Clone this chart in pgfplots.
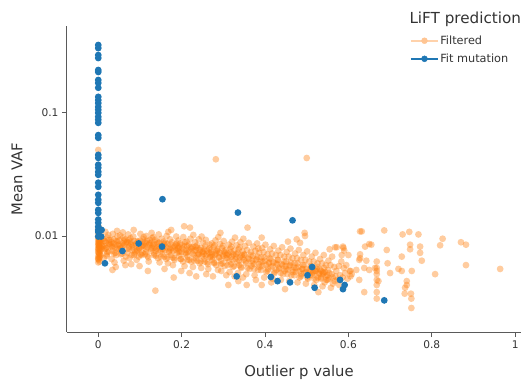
\documentclass[border=0pt]{standalone}
\usepackage{fontspec}
\setmainfont{DejaVu Sans}
\usepackage{pgfplots}
\pgfplotsset{compat=1.18}
\definecolor{fitblue}{HTML}{1F77B4}
\definecolor{filtorange}{HTML}{FF7F0E}
\definecolor{spine}{HTML}{5A5A5A}
\definecolor{txt}{HTML}{333333}
\begin{document}
\begin{tikzpicture}
\useasboundingbox (-67pt,-51pt) rectangle (456pt,332pt);
\begin{axis}[
  scale only axis, width=454pt, height=306pt,
  at={(0pt,0pt)}, anchor=south west, clip=false,
  ymode=log, xmin=-0.075, xmax=1.014, ymin=0.00166, ymax=0.508,
  axis x line*=bottom, axis y line*=left,
  axis line style={spine, line width=1pt, -},
  every outer x axis line/.append style={-},
  every outer y axis line/.append style={-},
  xtick={0,0.2,0.4,0.6,0.8,1}, xticklabels={0,0.2,0.4,0.6,0.8,1},
  ytick={0.01,0.1}, yticklabels={0.01,0.1},
  yminorticks=false,
  tick align=outside, major tick length=5pt,
  tick style={spine, line width=0.9pt},
  tick label style={font=\fontsize{10.6}{12}\selectfont, color=txt},
  xlabel={Outlier p value}, ylabel={Mean VAF},
  label style={font=\fontsize{14.8}{17}\selectfont, color=txt},
  xlabel style={at={(axis description cs:0.511,-0.1307)}, anchor=center},
  ylabel style={at={(axis description cs:-0.1101,0.5)}, anchor=center},
  legend cell align=left,
  legend style={at={(rel axis cs:0.7555,0.9739)}, anchor=north west, draw=none, fill=none,
    font=\fontsize{11.3}{13}\selectfont, text=txt, inner sep=0pt, row sep=5pt,
    nodes={inner sep=1.5pt}},
]
% Filtered (orange)
\addplot[only marks, mark=*, mark size=3.4pt, forget plot, color=filtorange,
  mark options={draw opacity=0, fill=filtorange, fill opacity=0.40}] coordinates {
(0,0.0061) (0.001,0.0064) (0.002,0.0067) (0,0.0069) (0.003,0.0071) (0.001,0.0073) (0,0.0074) (0.004,0.0076)
(0.002,0.0078) (0,0.0079) (0.001,0.0081) (0.003,0.0082) (0,0.0084) (0.002,0.0085) (0.005,0.0087) (0,0.0088)
(0.001,0.0090) (0.003,0.0091) (0,0.0093) (0.002,0.0094) (0.004,0.0096) (0,0.0098) (0.001,0.0100) (0.003,0.0102)
(0,0.0105) (0.002,0.0108) (0.005,0.0111) (0,0.0114) (0.001,0.0119) (0,0.0500) (0.002,0.0072) (0.004,0.0080)
(0.001,0.0086) (0.003,0.0089) (0,0.0077) (0.002,0.0083) (0.006,0.0092) (0.004,0.0068) (0,0.0066) (0.005,0.0075)
(0.002,0.0097) (0,0.0065) (0.003,0.0062) (0.007,0.0084) (0.008,0.0079) (0.006,0.0070)
(0.012,0.0095) (0.015,0.0078) (0.018,0.0088) (0.021,0.0071) (0.024,0.0102) (0.027,0.0084) (0.013,0.0066) (0.016,0.0091)
(0.019,0.0080) (0.022,0.0097) (0.025,0.0075) (0.028,0.0086) (0.014,0.0083) (0.020,0.0069) (0.026,0.0093) (0.017,0.0108)
(0.031,0.0089) (0.034,0.0076) (0.037,0.0094) (0.040,0.0081) (0.043,0.0070) (0.046,0.0099) (0.049,0.0085) (0.032,0.0065)
(0.035,0.0104) (0.038,0.0087) (0.041,0.0073) (0.044,0.0091) (0.047,0.0079) (0.033,0.0083) (0.039,0.0061) (0.045,0.0110)
(0.034,0.0053) (0.042,0.0056)
(0.051,0.0092) (0.054,0.0080) (0.057,0.0072) (0.060,0.0097) (0.063,0.0085) (0.066,0.0068) (0.069,0.0089) (0.052,0.0101)
(0.055,0.0076) (0.058,0.0087) (0.061,0.0063) (0.064,0.0094) (0.067,0.0078) (0.053,0.0083) (0.059,0.0107) (0.065,0.0058)
(0.071,0.0088) (0.074,0.0079) (0.077,0.0096) (0.080,0.0070) (0.083,0.0084) (0.086,0.0091) (0.089,0.0075) (0.072,0.0103)
(0.075,0.0066) (0.078,0.0086) (0.081,0.0081) (0.084,0.0099) (0.087,0.0072) (0.073,0.0093) (0.079,0.0059) (0.085,0.0112)
(0.091,0.0086) (0.094,0.0077) (0.097,0.0068) (0.100,0.0092) (0.103,0.0082) (0.106,0.0073) (0.109,0.0098) (0.092,0.0064)
(0.095,0.0089) (0.098,0.0080) (0.101,0.0104) (0.104,0.0070) (0.107,0.0085) (0.093,0.0076) (0.099,0.0057) (0.108,0.0094)
(0.111,0.0083) (0.114,0.0074) (0.117,0.0091) (0.120,0.0067) (0.123,0.0087) (0.126,0.0079) (0.129,0.0096) (0.112,0.0071)
(0.115,0.0100) (0.118,0.0081) (0.121,0.0062) (0.124,0.0093) (0.127,0.0076) (0.113,0.0088) (0.119,0.0052) (0.128,0.0106)
(0.131,0.0084) (0.134,0.0072) (0.137,0.0093) (0.140,0.0079) (0.143,0.0066) (0.146,0.0088) (0.149,0.0075) (0.132,0.0098)
(0.135,0.0081) (0.138,0.0069) (0.141,0.0090) (0.144,0.0077) (0.147,0.0061) (0.133,0.0086) (0.137,0.0036) (0.145,0.0103)
(0.151,0.0082) (0.154,0.0071) (0.157,0.0090) (0.160,0.0077) (0.163,0.0065) (0.166,0.0086) (0.169,0.0074) (0.152,0.0095)
(0.155,0.0079) (0.158,0.0068) (0.161,0.0088) (0.164,0.0100) (0.167,0.0060) (0.153,0.0084) (0.159,0.0054) (0.168,0.0108)
(0.171,0.0080) (0.174,0.0070) (0.177,0.0089) (0.180,0.0076) (0.183,0.0064) (0.186,0.0085) (0.189,0.0073) (0.172,0.0094)
(0.175,0.0112) (0.178,0.0067) (0.181,0.0046) (0.184,0.0082) (0.187,0.0099) (0.173,0.0078) (0.179,0.0058) (0.188,0.0087)
(0.191,0.0079) (0.194,0.0069) (0.197,0.0087) (0.200,0.0074) (0.203,0.0062) (0.206,0.0120) (0.209,0.0071) (0.192,0.0092)
(0.195,0.0076) (0.198,0.0065) (0.201,0.0084) (0.204,0.0098) (0.207,0.0057) (0.193,0.0081) (0.199,0.0052) (0.208,0.0089)
(0.211,0.0077) (0.214,0.0068) (0.217,0.0085) (0.220,0.0117) (0.223,0.0062) (0.226,0.0081) (0.229,0.0070) (0.212,0.0090)
(0.215,0.0074) (0.218,0.0064) (0.221,0.0095) (0.224,0.0079) (0.227,0.0056) (0.213,0.0083) (0.219,0.0050) (0.228,0.0102)
(0.231,0.0076) (0.234,0.0066) (0.237,0.0084) (0.240,0.0072) (0.243,0.0060) (0.246,0.0080) (0.249,0.0069) (0.232,0.0089)
(0.235,0.0047) (0.238,0.0063) (0.241,0.0094) (0.244,0.0077) (0.247,0.0055) (0.233,0.0082) (0.239,0.0070) (0.248,0.0099)
(0.251,0.0075) (0.254,0.0065) (0.257,0.0083) (0.260,0.0071) (0.263,0.0059) (0.266,0.0079) (0.269,0.0068) (0.252,0.0088)
(0.255,0.0062) (0.258,0.0093) (0.261,0.0076) (0.264,0.0054) (0.267,0.0085) (0.253,0.0072) (0.259,0.0049) (0.268,0.0067)
(0.271,0.0074) (0.274,0.0064) (0.277,0.0082) (0.280,0.0070) (0.282,0.0420) (0.283,0.0058) (0.286,0.0078) (0.289,0.0067)
(0.272,0.0087) (0.275,0.0047) (0.278,0.0061) (0.281,0.0092) (0.284,0.0075) (0.287,0.0053) (0.273,0.0071) (0.279,0.0084) (0.288,0.0098)
(0.291,0.0073) (0.293,0.0106) (0.294,0.0063) (0.297,0.0080) (0.300,0.0069) (0.303,0.0057) (0.306,0.0077) (0.309,0.0066)
(0.292,0.0086) (0.295,0.0052) (0.298,0.0060) (0.301,0.0091) (0.304,0.0073) (0.307,0.0048) (0.299,0.0083) (0.308,0.0070)
(0.311,0.0072) (0.312,0.0040) (0.314,0.0062) (0.317,0.0079) (0.320,0.0068) (0.323,0.0056) (0.326,0.0076) (0.329,0.0065)
(0.313,0.0085) (0.315,0.0051) (0.318,0.0059) (0.321,0.0090) (0.324,0.0071) (0.327,0.0047) (0.319,0.0082) (0.328,0.0097)
(0.331,0.0071) (0.334,0.0061) (0.337,0.0078) (0.340,0.0067) (0.343,0.0055) (0.346,0.0075) (0.349,0.0064) (0.332,0.0084)
(0.335,0.0050) (0.338,0.0058) (0.341,0.0089) (0.344,0.0070) (0.347,0.0046) (0.339,0.0081) (0.348,0.0095) (0.336,0.0043)
(0.351,0.0070) (0.354,0.0060) (0.356,0.0040) (0.357,0.0077) (0.358,0.0117) (0.360,0.0066) (0.363,0.0054) (0.366,0.0074)
(0.369,0.0063) (0.352,0.0083) (0.355,0.0049) (0.361,0.0088) (0.367,0.0057)
(0.371,0.0069) (0.374,0.0059) (0.377,0.0076) (0.380,0.0065) (0.383,0.0053) (0.386,0.0073) (0.389,0.0062) (0.372,0.0082)
(0.375,0.0048) (0.381,0.0087) (0.387,0.0056) (0.378,0.0044) (0.384,0.0079)
(0.391,0.0067) (0.392,0.0097) (0.392,0.0040) (0.394,0.0057) (0.397,0.0074) (0.400,0.0063) (0.403,0.0051) (0.406,0.0071)
(0.409,0.0060) (0.393,0.0080) (0.398,0.0046) (0.401,0.0085) (0.407,0.0054)
(0.411,0.0066) (0.414,0.0056) (0.417,0.0072) (0.420,0.0061) (0.423,0.0050) (0.426,0.0070) (0.429,0.0059) (0.412,0.0078)
(0.418,0.0045) (0.421,0.0083) (0.427,0.0053) (0.415,0.0042)
(0.431,0.0064) (0.434,0.0054) (0.437,0.0070) (0.440,0.0059) (0.443,0.0049) (0.446,0.0068) (0.448,0.0037) (0.449,0.0057)
(0.432,0.0076) (0.438,0.0044) (0.441,0.0081) (0.447,0.0052)
(0.451,0.0062) (0.454,0.0053) (0.457,0.0068) (0.460,0.0058) (0.463,0.0048) (0.466,0.0066) (0.469,0.0056) (0.452,0.0074)
(0.458,0.0043) (0.461,0.0079) (0.467,0.0051) (0.455,0.0090)
(0.471,0.0060) (0.474,0.0051) (0.477,0.0066) (0.480,0.0056) (0.483,0.0046) (0.486,0.0064) (0.489,0.0054) (0.472,0.0072)
(0.478,0.0042) (0.481,0.0077) (0.487,0.0049) (0.476,0.0094) (0.484,0.0088)
(0.491,0.0058) (0.494,0.0050) (0.495,0.0106) (0.497,0.0064) (0.500,0.0054) (0.500,0.0430) (0.503,0.0045) (0.506,0.0062)
(0.509,0.0052) (0.492,0.0070) (0.498,0.0041) (0.501,0.0075) (0.507,0.0048) (0.496,0.0100)
(0.511,0.0056) (0.514,0.0048) (0.517,0.0062) (0.520,0.0052) (0.523,0.0044) (0.526,0.0060) (0.528,0.0035) (0.529,0.0050)
(0.512,0.0068) (0.518,0.0040) (0.521,0.0073) (0.527,0.0046) (0.524,0.0054) (0.515,0.0051)
(0.531,0.0054) (0.534,0.0046) (0.537,0.0060) (0.540,0.0050) (0.543,0.0042) (0.546,0.0058) (0.549,0.0048) (0.532,0.0065)
(0.538,0.0039) (0.541,0.0070) (0.547,0.0044) (0.535,0.0052) (0.544,0.0051) (0.539,0.0049)
(0.551,0.0053) (0.554,0.0045) (0.557,0.0058) (0.560,0.0049) (0.563,0.0041) (0.566,0.0056) (0.569,0.0047) (0.552,0.0063)
(0.558,0.0038) (0.561,0.0068) (0.567,0.0043) (0.555,0.0078)
(0.571,0.0052) (0.574,0.0044) (0.577,0.0057) (0.580,0.0048) (0.583,0.0062) (0.586,0.0046) (0.589,0.0055) (0.572,0.0081)
(0.578,0.0040) (0.584,0.0070) (0.587,0.0082) (0.592,0.0050) (0.595,0.0058) (0.598,0.0045) (0.568,0.0081)
(0.628,0.0109) (0.632,0.0109) (0.686,0.0111) (0.730,0.0103) (0.746,0.0108) (0.768,0.0103) (0.826,0.0095) (0.870,0.0089)
(0.882,0.0085) (0.882,0.0058) (0.964,0.0054) (0.808,0.0049) (0.820,0.0084) (0.772,0.0082) (0.772,0.0073) (0.776,0.0063)
(0.748,0.0085) (0.748,0.0078) (0.752,0.0052) (0.740,0.0043) (0.740,0.0040) (0.736,0.0038) (0.750,0.0034) (0.751,0.0031)
(0.751,0.0026) (0.735,0.0034) (0.728,0.0068) (0.720,0.0054) (0.728,0.0052) (0.700,0.0050) (0.694,0.0060) (0.692,0.0077)
(0.668,0.0062) (0.668,0.0055) (0.668,0.0052) (0.668,0.0049) (0.668,0.0044) (0.668,0.0040) (0.668,0.0035) (0.668,0.0031)
(0.672,0.0043) (0.664,0.0055) (0.640,0.0082) (0.650,0.0086) (0.655,0.0085) (0.588,0.0080) (0.590,0.0076) (0.600,0.0070)
(0.628,0.0071) (0.626,0.0064) (0.628,0.0066) (0.643,0.0063) (0.638,0.0055) (0.650,0.0053) (0.619,0.0053) (0.605,0.0052)
(0.608,0.0049) (0.605,0.0047) (0.626,0.0044) (0.638,0.0035) (0.603,0.0052)
(0.010,0.0082) (0.018,0.0079) (0.026,0.0087) (0.034,0.0081) (0.042,0.0085) (0.050,0.0078) (0.058,0.0083) (0.066,0.0088)
(0.074,0.0082) (0.082,0.0077) (0.090,0.0084) (0.098,0.0079) (0.106,0.0083) (0.114,0.0078) (0.122,0.0085) (0.130,0.0080)
(0.138,0.0076) (0.146,0.0082) (0.154,0.0078) (0.162,0.0081) (0.170,0.0075) (0.178,0.0080) (0.186,0.0077) (0.194,0.0074)
(0.202,0.0079) (0.210,0.0073) (0.218,0.0076) (0.226,0.0072) (0.234,0.0077) (0.242,0.0071) (0.250,0.0074) (0.258,0.0069)
(0.266,0.0073) (0.274,0.0068) (0.282,0.0072) (0.290,0.0067) (0.298,0.0071) (0.306,0.0066) (0.314,0.0070) (0.322,0.0064)
(0.330,0.0068) (0.338,0.0063) (0.346,0.0067) (0.354,0.0062) (0.362,0.0065) (0.370,0.0060) (0.378,0.0064) (0.386,0.0059)
(0.394,0.0062) (0.402,0.0058) (0.410,0.0061) (0.418,0.0057) (0.426,0.0060) (0.434,0.0055) (0.442,0.0058) (0.450,0.0054)
(0.458,0.0057) (0.466,0.0053) (0.474,0.0055) (0.482,0.0052) (0.490,0.0054) (0.498,0.0051) (0.506,0.0053) (0.514,0.0050)
(0.522,0.0052) (0.530,0.0049) (0.538,0.0051) (0.546,0.0047) (0.554,0.0050) (0.562,0.0046)
(0.014,0.0091) (0.022,0.0074) (0.030,0.0093) (0.038,0.0072) (0.046,0.0090) (0.054,0.0071) (0.062,0.0092) (0.070,0.0073)
(0.078,0.0090) (0.086,0.0070) (0.094,0.0091) (0.102,0.0071) (0.110,0.0089) (0.118,0.0069) (0.126,0.0088) (0.134,0.0070)
(0.142,0.0087) (0.150,0.0068) (0.158,0.0086) (0.166,0.0067) (0.174,0.0085) (0.182,0.0066) (0.190,0.0083) (0.198,0.0065)
(0.206,0.0082) (0.214,0.0064) (0.222,0.0081) (0.230,0.0063) (0.238,0.0080) (0.246,0.0062) (0.254,0.0078) (0.262,0.0061)
(0.270,0.0077) (0.278,0.0060) (0.286,0.0076) (0.294,0.0059) (0.302,0.0075) (0.310,0.0058) (0.318,0.0074) (0.326,0.0057)
(0.334,0.0073) (0.342,0.0056) (0.350,0.0071) (0.358,0.0055) (0.366,0.0070) (0.374,0.0054) (0.382,0.0068) (0.390,0.0053)
(0.398,0.0067) (0.406,0.0052) (0.414,0.0065) (0.422,0.0051) (0.430,0.0064) (0.438,0.0050) (0.446,0.0062) (0.454,0.0049)
(0.462,0.0061) (0.470,0.0048) (0.478,0.0060) (0.486,0.0047) (0.494,0.0058) (0.502,0.0046) (0.510,0.0057) (0.518,0.0045)
(0.526,0.0056) (0.534,0.0045) (0.542,0.0055) (0.550,0.0044)
};
% Fit mutation (blue)
\addplot[only marks, mark=*, mark size=3.4pt, forget plot, color=fitblue,
  mark options={draw opacity=0, fill=fitblue}] coordinates {
(0,0.356) (0,0.336) (0,0.295) (0,0.279) (0,0.223) (0,0.215) (0,0.185) (0,0.175) (0,0.160) (0,0.135)
(0,0.127) (0,0.120) (0,0.112) (0,0.106) (0,0.100) (0,0.093) (0,0.088) (0,0.083) (0,0.066) (0,0.0627)
(0,0.0456) (0,0.0431) (0,0.0379) (0,0.0358) (0,0.0332) (0,0.0314) (0,0.0271) (0,0.0251) (0,0.0216) (0,0.0197)
(0,0.0186) (0,0.0163) (0,0.0154) (0,0.0136) (0,0.0128) (0,0.0119) (0,0.0112) (0,0.0108) (0,0.0099)
(0.008,0.0112) (0.007,0.0099) (0.016,0.0060) (0.058,0.00755) (0.097,0.0087) (0.153,0.0082) (0.154,0.0199)
(0.335,0.0155) (0.466,0.0134) (0.332,0.0047) (0.414,0.00465) (0.430,0.0043) (0.460,0.0042) (0.513,0.0056)
(0.502,0.0048) (0.519,0.0038) (0.580,0.0044) (0.591,0.0040) (0.587,0.0037) (0.686,0.0030)
};
\addlegendimage{legend image code/.code={
  \draw[color=filtorange!35, line width=1.6pt] (0pt,0pt) -- (27pt,0pt);
  \fill[filtorange!45] (13.5pt,0pt) circle (3pt);}}
\addlegendentry{Filtered}
\addlegendimage{legend image code/.code={
  \draw[color=fitblue, line width=1.6pt] (0pt,0pt) -- (27pt,0pt);
  \fill[fitblue] (13.5pt,0pt) circle (3pt);}}
\addlegendentry{Fit mutation}
\node[anchor=base west, inner sep=0pt, font=\fontsize{15.2}{18}\selectfont, text=txt]
  at (rel axis cs:0.7540,1.0088) {LiFT prediction};
\end{axis}
\end{tikzpicture}
\end{document}
